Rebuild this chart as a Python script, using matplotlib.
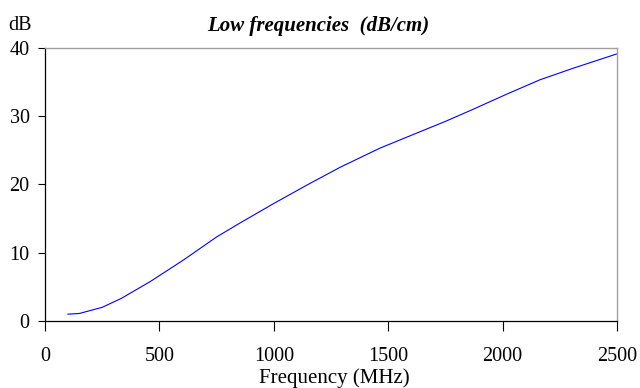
import matplotlib
matplotlib.use("Agg")
import matplotlib.pyplot as plt

# attenuation curve, low frequency range
freq_mhz = [100, 150, 250, 333, 459, 604, 750, 850, 1000, 1145, 1290,
            1464, 1610, 1756, 1872, 2018, 2163, 2309, 2400, 2500]
loss_db = [1.0, 1.1, 2.0, 3.3, 5.75, 8.9, 12.3, 14.3, 17.2, 19.9, 22.5,
           25.3, 27.3, 29.3, 31.0, 33.2, 35.3, 37.0, 38.0, 39.1]

x_ticks = [0, 500, 1000, 1500, 2000, 2500]
y_ticks = [0, 10, 20, 30, 40]

plt.rcParams['font.family'] = ['Liberation Serif', 'DejaVu Serif']

fig = plt.figure(figsize=(6.4, 3.88), dpi=100)
ax = fig.add_axes([45 / 640, 1 - 321 / 388, 572 / 640, 273.3 / 388])

ax.plot(freq_mhz, loss_db, color='#0000ff', linewidth=0.8)

ax.set_xlim(0, 2500)
ax.set_ylim(0, 40)
ax.set_xticks(x_ticks)
ax.set_yticks(y_ticks)
ax.tick_params(axis='x', direction='out', length=7, width=0.8, pad=12, labelsize=14.5)
ax.tick_params(axis='y', direction='out', length=5, width=0.8, pad=6, labelsize=14.5)

for side in ('top', 'right'):
    ax.spines[side].set_color('#a0a0a0')
    ax.spines[side].set_linewidth(1.0)
for side in ('left', 'bottom'):
    ax.spines[side].set_color('black')
    ax.spines[side].set_linewidth(0.9)

fig.text(334 / 640, 1 - 383 / 388, 'Frequency (MHz)', ha='center',
         va='baseline', fontsize=15)
fig.text(318 / 640, 1 - 31 / 388, 'Low frequencies  (dB/cm)', ha='center',
         va='baseline', fontsize=15, fontweight='bold', style='italic')
fig.text(8 / 640, 1 - 30 / 388, 'dB', ha='left', va='baseline', fontsize=14.5)

fig.savefig('out.png', dpi=100)
